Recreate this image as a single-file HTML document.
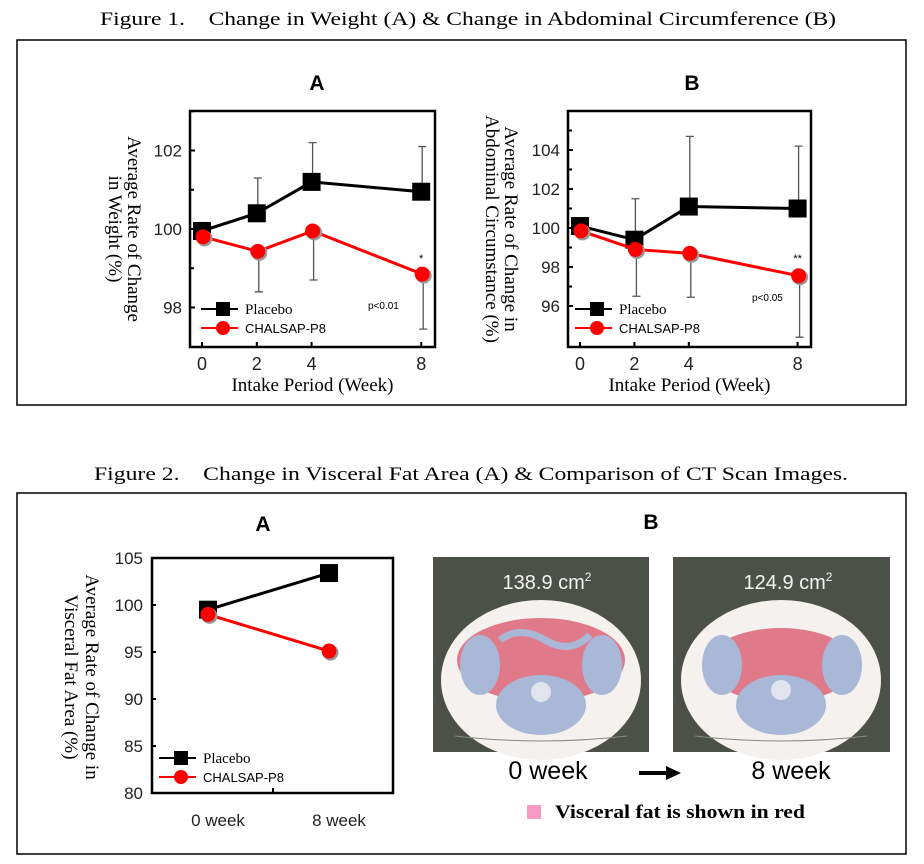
<!DOCTYPE html>
<html><head><meta charset="utf-8"><style>
body{margin:0;background:#fff;}
svg{display:block;}
.serif{font-family:"Liberation Serif",serif;}
.sans{font-family:"Liberation Sans",sans-serif;}
</style></head><body>
<svg id="root" width="924" height="864" viewBox="0 0 924 864" xmlns="http://www.w3.org/2000/svg">
<text class="serif" x="100" y="25" font-size="19" textLength="736" lengthAdjust="spacingAndGlyphs">Figure 1.　Change in Weight (A) &amp; Change in Abdominal Circumference (B)</text>
<rect x="17" y="40" width="889" height="365" fill="none" stroke="#000" stroke-width="1.5"/>
<text class="serif" x="94" y="480" font-size="19" textLength="754" lengthAdjust="spacingAndGlyphs">Figure 2.　Change in Visceral Fat Area (A) &amp; Comparison of CT Scan Images.</text>
<rect x="17" y="493" width="889" height="361" fill="none" stroke="#000" stroke-width="1.5"/>

<g id="chartA"></g>
<g id="chartB"></g>
<g id="chartC"></g>

<g>
<text class="sans" x="651" y="529" font-size="21" font-weight="bold" text-anchor="middle">B</text>
<g>
<rect x="433" y="557" width="216" height="195" fill="#4b5149"/>
<ellipse cx="541" cy="680" rx="100" ry="80" fill="#f4f1ee"/>
<ellipse cx="541" cy="660" rx="84" ry="42" fill="#e07a8a"/>
<ellipse cx="480" cy="665" rx="20" ry="30" fill="#a9b8d6"/>
<ellipse cx="602" cy="665" rx="20" ry="30" fill="#a9b8d6"/>
<ellipse cx="541" cy="705" rx="45" ry="30" fill="#a9b8d6"/>
<path d="M500 640 Q520 625 545 640 T590 635" stroke="#a9b8d6" stroke-width="7" fill="none"/>
<circle cx="541" cy="692" r="10" fill="#dfe4ee"/>
<path d="M455 736 Q541 746 627 736" stroke="#888" fill="none"/>
<text class="sans" x="547" y="589" font-size="20" fill="#f4f4f4" text-anchor="middle">138.9 cm<tspan font-size="12" dy="-8">2</tspan></text>
</g>
<g>
<rect x="673" y="557" width="217" height="195" fill="#4b5149"/>
<ellipse cx="781" cy="680" rx="100" ry="80" fill="#f4f1ee"/>
<ellipse cx="781" cy="665" rx="75" ry="37" fill="#e07a8a"/>
<ellipse cx="722" cy="665" rx="20" ry="30" fill="#a9b8d6"/>
<ellipse cx="842" cy="665" rx="20" ry="30" fill="#a9b8d6"/>
<ellipse cx="781" cy="705" rx="45" ry="30" fill="#a9b8d6"/>
<circle cx="781" cy="690" r="10" fill="#dfe4ee"/>
<path d="M695 736 Q781 746 867 736" stroke="#888" fill="none"/>
<text class="sans" x="788" y="589" font-size="20" fill="#f4f4f4" text-anchor="middle">124.9 cm<tspan font-size="12" dy="-8">2</tspan></text>
</g>
<text class="sans" x="548" y="779" font-size="25" text-anchor="middle">0 week</text>
<path d="M639 773 H668" stroke="#000" stroke-width="4"/>
<polygon points="666,766 681,773 666,780" fill="#000"/>
<text class="sans" x="791" y="779" font-size="25" text-anchor="middle">8 week</text>
<rect x="527" y="805" width="14" height="14" fill="#f59ac4"/>
<text class="serif" x="555" y="818" font-size="19" font-weight="bold" textLength="250" lengthAdjust="spacingAndGlyphs">Visceral fat is shown in red</text>
</g>
</svg>
<script>
// Chart A: weight
const weeks = [0, 2, 4, 8];
const weightPlacebo = [99.95, 100.4, 101.2, 100.95];
const weightPlaceboErrTop = [99.95, 101.3, 102.2, 102.1];
const weightChalsap = [99.8, 99.43, 99.95, 98.85];
const weightChalsapErrLow = [99.8, 98.4, 98.7, 97.45];
const weightTicks = [98, 100, 102];
// Chart B: abdominal circumference
const abdPlacebo = [100.1, 99.4, 101.1, 101.0];
const abdPlaceboErrTop = [100.1, 101.5, 104.7, 104.2];
const abdChalsap = [99.85, 98.9, 98.7, 97.55];
const abdChalsapErrLow = [99.85, 96.5, 96.45, 94.4];
const abdTicks = [96, 98, 100, 102, 104];
// Chart C: visceral fat
const fatCategories = ["0 week", "8 week"];
const fatPlacebo = [99.5, 103.4];
const fatChalsap = [99.0, 95.1];
const fatTicks = [80, 85, 90, 95, 100, 105];

const NS = "http://www.w3.org/2000/svg";
function mk(parent, tag, attrs, text) {
  const e = document.createElementNS(NS, tag);
  for (const k in attrs) e.setAttribute(k, attrs[k]);
  if (text !== undefined) e.textContent = text;
  parent.appendChild(e);
  return e;
}

function drawLine(g, xs, ys, isRed) {
  const pts = xs.map((x, i) => x + "," + ys[i]).join(" ");
  const pl = mk(g, "polyline", {points: pts, fill: "none", stroke: isRed ? "#f00" : "#000", "stroke-width": 3});
  
  
  xs.forEach((x, i) => {
    let m;
    if (isRed) {
      mk(g, "circle", {cx: x + 1.5, cy: ys[i] + 1.5, r: 8, fill: "#999"});
      m = mk(g, "circle", {cx: x, cy: ys[i], r: 7.5, fill: "#f00"});
      
    } else {
      m = mk(g, "rect", {x: x - 9, y: ys[i] - 9, width: 18, height: 18, fill: "#000"});
      
    }
    
  });
}

function drawErr(g, x, y0, y1) {
  const e = mk(g, "path", {d: `M${x} ${y0} V${y1} M${x-4} ${y1} H${x+4}`, stroke: "#555", "stroke-width": 1.3, fill: "none"});
  
  
}

function legend(g, x, y1, y2) {
  mk(g, "line", {x1: x - 22, y1: y1, x2: x + 15, y2: y1, stroke: "#000", "stroke-width": 2});
  const s = mk(g, "rect", {x: x - 7, y: y1 - 7, width: 14, height: 14, fill: "#000"});
  
  
  const t1 = mk(g, "text", {x: x + 22, y: y1 + 5, "font-size": 15, class: "serif"}, "Placebo");
  
  
  mk(g, "line", {x1: x - 22, y1: y2, x2: x + 15, y2: y2, stroke: "#f00", "stroke-width": 2});
  const c = mk(g, "circle", {cx: x, cy: y2, r: 7, fill: "#f00"});
  
  
  const t2 = mk(g, "text", {x: x + 22, y: y2 + 5, "font-size": 13, class: "sans"}, "CHALSAP-P8");
  
  
}

function weekChart(cfg) {
  const g = document.getElementById(cfg.id);
  const X = w => cfg.x0 + w * cfg.xs;
  const Y = v => cfg.yRef - (v - cfg.vRef) * cfg.ys;
  const t = mk(g, "text", {x: cfg.titleX, y: 90, "font-size": 21, "font-weight": "bold", "text-anchor": "middle", class: "sans"}, cfg.title);
  
  
  const b = mk(g, "rect", {x: cfg.bx, y: 111, width: cfg.bw, height: 236, fill: "none", stroke: "#000", "stroke-width": 2.5});
  
  
  cfg.ticks.forEach(v => {
    mk(g, "line", {x1: cfg.bx, x2: cfg.bx + 5, y1: Y(v), y2: Y(v), stroke: "#000", "stroke-width": 2});
    mk(g, "line", {x1: cfg.bx, x2: cfg.bx + 4, y1: Y(v + 1), y2: Y(v + 1), stroke: "#000", "stroke-width": 2});
    const tl = mk(g, "text", {x: cfg.bx - 8, y: Y(v) + 6, "font-size": 17, "text-anchor": "end", class: "sans", fill: "#222"}, v);
    
    
  });
  weeks.forEach(w => {
    mk(g, "line", {x1: X(w), x2: X(w), y1: 347, y2: 342, stroke: "#000", "stroke-width": 2});
    const tl = mk(g, "text", {x: X(w), y: 370, "font-size": 18, "text-anchor": "middle", class: "sans", fill: "#222"}, w);
    
    
  });
  const xt = mk(g, "text", {x: cfg.bx + cfg.bw / 2, y: 391, "font-size": 19, "text-anchor": "middle", class: "serif"}, "Intake Period (Week)");
  
  
  const yt = mk(g, "text", {transform: `translate(${cfg.ylx},${229}) rotate(90)`, "font-size": 19, "text-anchor": "middle", class: "serif"});
  
  
  cfg.ylabel.forEach((l, i) => mk(yt, "tspan", {x: 0, dy: i === 0 ? 0 : 19}, l));
  weeks.forEach((w, i) => {
    if (i > 0) { drawErr(g, X(w) + 1, Y(cfg.p[i]), Y(cfg.pe[i])); drawErr(g, X(w) + 2, Y(cfg.c[i]), Y(cfg.ce[i])); }
  });
  drawLine(g, weeks.map(X), cfg.p.map(Y), false);
  drawLine(g, weeks.map(w => X(w) + 1), cfg.c.map(Y), true);
  legend(g, cfg.legX, 309, 328);
  const pv = mk(g, "text", {x: cfg.pX, y: cfg.pY, "font-size": 10, class: "sans"}, cfg.pText);
  
  
  const st = mk(g, "text", {x: X(8), y: cfg.starY, "font-size": 11, "text-anchor": "middle", class: "sans"}, cfg.star);
  
  
}

weekChart({id: "chartA", title: "A", titleX: 317, bx: 190, bw: 245, x0: 202, xs: 27.4, yRef: 229, vRef: 100, ys: 39.25,
  ticks: weightTicks, p: weightPlacebo, pe: weightPlaceboErrTop, c: weightChalsap, ce: weightChalsapErrLow,
  ylx: 128, ylabel: ["Average Rate of Change", "in Weight (%)"], legX: 223, pX: 368, pY: 309, pText: "p<0.01", star: "*", starY: 262});
weekChart({id: "chartB", title: "B", titleX: 692, bx: 568, bw: 243, x0: 580, xs: 27.2, yRef: 228, vRef: 100, ys: 19.5,
  ticks: abdTicks, p: abdPlacebo, pe: abdPlaceboErrTop, c: abdChalsap, ce: abdChalsapErrLow,
  ylx: 505, ylabel: ["Average Rate of Change in", "Abdominal Circumstance (%)"], legX: 597, pX: 752, pY: 301, pText: "p<0.05", star: "**", starY: 262});

(function () {
  const g = document.getElementById("chartC");
  const X = i => 208 + i * 121;
  const Y = v => 793 - (v - 80) * 9.4;
  const t = mk(g, "text", {x: 263, y: 531, "font-size": 21, "font-weight": "bold", "text-anchor": "middle", class: "sans"}, "A");
  
  
  const b = mk(g, "rect", {x: 152, y: 558, width: 241, height: 235, fill: "none", stroke: "#000", "stroke-width": 2.5});
  
  
  fatTicks.forEach(v => {
    mk(g, "line", {x1: 152, x2: 156, y1: Y(v), y2: Y(v), stroke: "#000", "stroke-width": 2});
    const tl = mk(g, "text", {x: 143, y: Y(v) + 6, "font-size": 17, "text-anchor": "end", class: "sans", fill: "#222"}, v);
    
    
  });
  mk(g, "line", {x1: 273, x2: 273, y1: 793, y2: 788, stroke: "#000", "stroke-width": 2});
  fatCategories.forEach((c, i) => {
    const tl = mk(g, "text", {x: X(i) + 10, y: 826, "font-size": 17, "text-anchor": "middle", class: "sans", fill: "#222"}, c);
    
    
  });
  const yt = mk(g, "text", {transform: "translate(86,677) rotate(90)", "font-size": 19, "text-anchor": "middle", class: "serif"});
  
  
  ["Average Rate of Change in", "Visceral Fat Area (%)"].forEach((l, i) => mk(yt, "tspan", {x: 0, dy: i === 0 ? 0 : 21}, l));
  drawLine(g, fatCategories.map((c, i) => X(i)), fatPlacebo.map(Y), false);
  drawLine(g, fatCategories.map((c, i) => X(i)), fatChalsap.map(Y), true);
  legend(g, 181, 758, 777);
})();
</script>
</body></html>
